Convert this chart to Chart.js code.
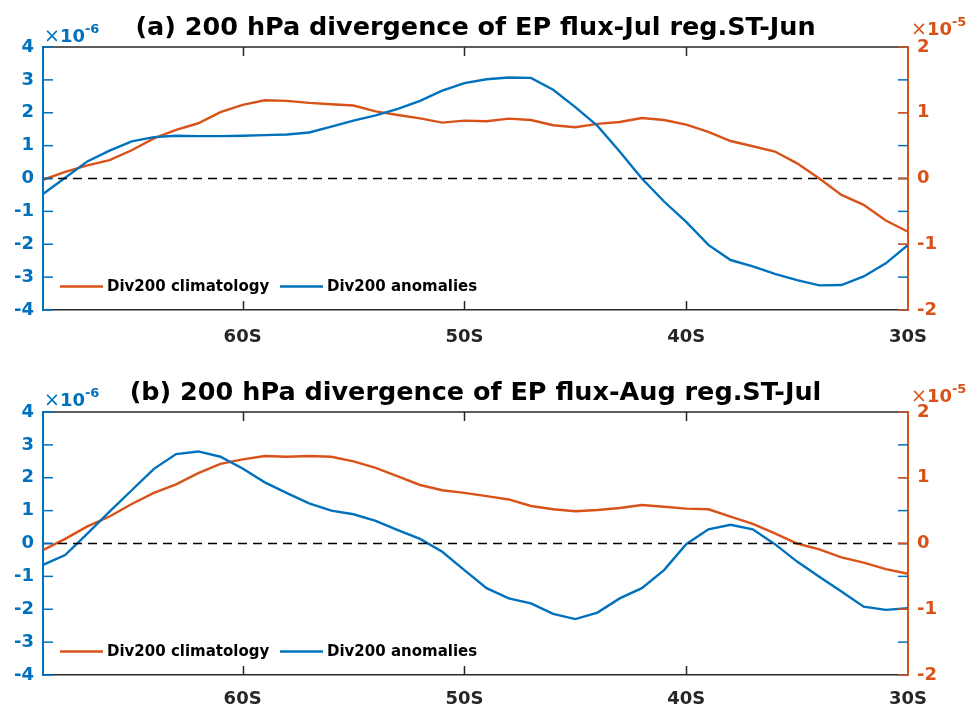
<!DOCTYPE html>
<html><head><meta charset="utf-8">
<script src="https://cdn.jsdelivr.net/npm/chart.js@4.4.1/dist/chart.umd.min.js"></script>
<style>
html,body{margin:0;padding:0;background:#fff;}
#wrap{position:relative;width:976px;height:709px;overflow:hidden;}
canvas{position:absolute;left:0;}
</style></head><body>
<div id="wrap">
<canvas id="ca" width="976" height="355" style="top:0px"></canvas>
<canvas id="cb" width="976" height="354" style="top:355px"></canvas>
</div>
<script>
// ---- data ----
const latitudes = [-69,-68,-67,-66,-65,-64,-63,-62,-61,-60,-59,-58,-57,-56,-55,-54,-53,-52,-51,-50,
                   -49,-48,-47,-46,-45,-44,-43,-42,-41,-40,-39,-38,-37,-36,-35,-34,-33,-32,-31,-30];
const xTickValues = [-60,-50,-40,-30];
const leftTickValues = [-4,-3,-2,-1,0,1,2,3,4];     // x 10^-6
const rightTickValues = [-2,-1,0,1,2];              // x 10^-5
const titleA = '(a) 200 hPa divergence of EP flux-Jul reg.ST-Jun';
const titleB = '(b) 200 hPa divergence of EP flux-Aug reg.ST-Jul';
const seriesNames = ['Div200 climatology','Div200 anomalies'];
// climatology, units of 1e-5 (right axis)
const climA = [-0.02,0.10,0.20,0.28,0.43,0.61,0.74,0.84,1.01,1.12,1.19,1.18,1.15,1.13,1.11,1.02,0.965,0.915,0.85,0.88,
               0.87,0.91,0.89,0.81,0.78,0.83,0.86,0.92,0.89,0.82,0.71,0.57,0.49,0.41,0.23,0.0,-0.25,-0.40,-0.64,-0.81];
// anomalies, units of 1e-6 (left axis)
const anomA = [-0.47,0.02,0.52,0.85,1.13,1.26,1.30,1.29,1.29,1.30,1.32,1.34,1.40,1.58,1.76,1.92,2.12,2.36,2.67,2.90,
               3.02,3.07,3.06,2.70,2.17,1.60,0.82,0.0,-0.70,-1.32,-2.02,-2.48,-2.67,-2.90,-3.09,-3.25,-3.24,-2.98,-2.58,-2.02];
const climB = [-0.10,0.07,0.26,0.41,0.60,0.77,0.90,1.07,1.21,1.28,1.33,1.32,1.33,1.32,1.25,1.15,1.02,0.89,0.81,0.77,
               0.72,0.67,0.57,0.52,0.49,0.51,0.54,0.585,0.56,0.53,0.52,0.41,0.30,0.155,0.0,-0.09,-0.21,-0.29,-0.39,-0.46];
const anomB = [-0.65,-0.35,0.30,0.97,1.62,2.27,2.72,2.80,2.64,2.28,1.86,1.53,1.22,1.00,0.89,0.69,0.41,0.14,-0.25,-0.81,
               -1.36,-1.67,-1.82,-2.14,-2.30,-2.10,-1.67,-1.36,-0.81,-0.02,0.43,0.57,0.43,-0.02,-0.55,-1.01,-1.46,-1.92,-2.02,-1.97];
const zeroLineX = [-69,-30];
const zeroLineY = [0,0];

// ---- styling ----
const BLUE = '#0072BD', ORANGE = '#D95319', DARK = '#262626';
const FONT = "'DejaVu Sans', sans-serif";

function pts(xs, ys){ return xs.map((x,i)=>({x:x,y:ys[i]})); }

function makePanel(id, title, clim, anom, padTop, xHeight, expL, expR, xPad){
  const deco = {
    id:'deco'+id,
    afterDraw(chart){
      const ctx = chart.ctx, a = chart.chartArea;
      const xs = chart.scales.x, yl = chart.scales.y, yr = chart.scales.y2;
      ctx.save();
      // top frame line
      ctx.strokeStyle = DARK; ctx.lineWidth = 1.5;
      ctx.beginPath(); ctx.moveTo(a.left, a.top); ctx.lineTo(a.right, a.top); ctx.stroke();
      // x ticks (inward, top & bottom)
      xTickValues.forEach(v=>{
        const px = Math.round(xs.getPixelForValue(v))+0.5;
        if (px > a.right-2) return;
        ctx.beginPath(); ctx.moveTo(px, a.bottom); ctx.lineTo(px, a.bottom-9);
        ctx.moveTo(px, a.top); ctx.lineTo(px, a.top+9); ctx.stroke();
      });
      // left ticks
      ctx.lineWidth = 1.5;
      ctx.strokeStyle = BLUE;
      leftTickValues.forEach(v=>{
        const py = yl.getPixelForValue(v);
        ctx.beginPath(); ctx.moveTo(a.left, py); ctx.lineTo(a.left+10, py); ctx.stroke();
        ctx.beginPath(); ctx.moveTo(a.right, py); ctx.lineTo(a.right-10, py); ctx.stroke();
      });
      ctx.strokeStyle = ORANGE;
      rightTickValues.forEach(v=>{
        const py = yr.getPixelForValue(v);
        ctx.beginPath(); ctx.moveTo(a.right, py); ctx.lineTo(a.right-10, py); ctx.stroke();
      });
      // title
      ctx.fillStyle = '#000';
      ctx.font = 'bold 25.5px ' + FONT;
      ctx.textAlign = 'center'; ctx.textBaseline = 'alphabetic';
      ctx.fillText(title, (a.left+a.right)/2, a.top-12);
      // exponent labels
      function expo(x, base, exp, color){
        ctx.fillStyle = color; ctx.textAlign='left';
        ctx.font = '19px ' + FONT;
        ctx.fillText('\u00d7', x, base);
        let w = ctx.measureText('\u00d7').width;
        ctx.font = 'bold 18px ' + FONT;
        ctx.fillText('10', x+w, base);
        w += ctx.measureText('10').width;
        ctx.font = 'bold 13px ' + FONT;
        ctx.fillText(exp, x+w, base-9);
      }
      expo(a.left+1, a.top-expL, '-6', BLUE);
      expo(a.right+3, a.top-expR, '-5', ORANGE);
      // legend (inside, lower left)
      const ly = a.bottom - 23.5;
      ctx.font = 'bold 15px ' + FONT; ctx.textBaseline = 'middle'; ctx.fillStyle = '#000';
      ctx.lineWidth = 2.4;
      const items = [[ORANGE, seriesNames[0], 17], [BLUE, seriesNames[1], 237]];
      items.forEach(it=>{
        ctx.strokeStyle = it[0];
        ctx.beginPath(); ctx.moveTo(a.left+it[2], ly); ctx.lineTo(a.left+it[2]+43, ly); ctx.stroke();
        ctx.fillText(it[1], a.left+it[2]+47, ly+1);
      });
      ctx.restore();
    }
  };
  return new Chart(document.getElementById(id), {
    type:'line',
    data:{ datasets:[
      { label:'zero', data:pts(zeroLineX, zeroLineY), yAxisID:'y', borderColor:'#000', borderWidth:1.3,
        borderDash:[9,6], pointRadius:0, tension:0 },
      { label:seriesNames[1], data:pts(latitudes, anom), yAxisID:'y', borderColor:BLUE, borderWidth:2.4,
        pointRadius:0, tension:0 },
      { label:seriesNames[0], data:pts(latitudes, clim), yAxisID:'y2', borderColor:ORANGE, borderWidth:2.4,
        pointRadius:0, tension:0 }
    ]},
    options:{
      responsive:false, animation:false, events:[],
      layout:{ padding:{ top:padTop, bottom:0, left:0, right:0 } },
      plugins:{ legend:{display:false}, title:{display:false}, tooltip:{enabled:false} },
      scales:{
        x:{ type:'linear', min:-69, max:-30,
            afterBuildTicks(s){ s.ticks = xTickValues.map(v=>({value:v})); },
            afterFit(s){ s.height = xHeight; },
            grid:{ display:true, drawOnChartArea:false, drawTicks:false },
            border:{ display:true, color:DARK, width:1.5 },
            ticks:{ color:DARK, font:{ family:FONT, size:18, weight:'bold' }, padding:xPad,
                    maxRotation:0, autoSkip:false, callback:v=>Math.abs(v)+'S' } },
        y:{ type:'linear', position:'left', min:-4, max:4,
            afterBuildTicks(s){ s.ticks = leftTickValues.map(v=>({value:v})); },
            afterFit(s){ s.width = 43; },
            grid:{ display:true, drawOnChartArea:false, drawTicks:false },
            border:{ display:true, color:BLUE, width:2 },
            ticks:{ color:BLUE, font:{ family:FONT, size:18, weight:'bold' }, padding:9 } },
        y2:{ type:'linear', position:'right', min:-2, max:2,
            afterBuildTicks(s){ s.ticks = rightTickValues.map(v=>({value:v})); },
            afterFit(s){ s.width = 68; },
            grid:{ display:true, drawOnChartArea:false, drawTicks:false },
            border:{ display:true, color:ORANGE, width:2 },
            ticks:{ color:ORANGE, font:{ family:FONT, size:18, weight:'bold' }, padding:9 } }
      }
    },
    plugins:[deco]
  });
}

makePanel('ca', titleA, climA, anomA, 47, 45, 5, 12, 17);
makePanel('cb', titleB, climB, anomB, 57, 34, 6, 10, 14);
</script>
</body></html>
